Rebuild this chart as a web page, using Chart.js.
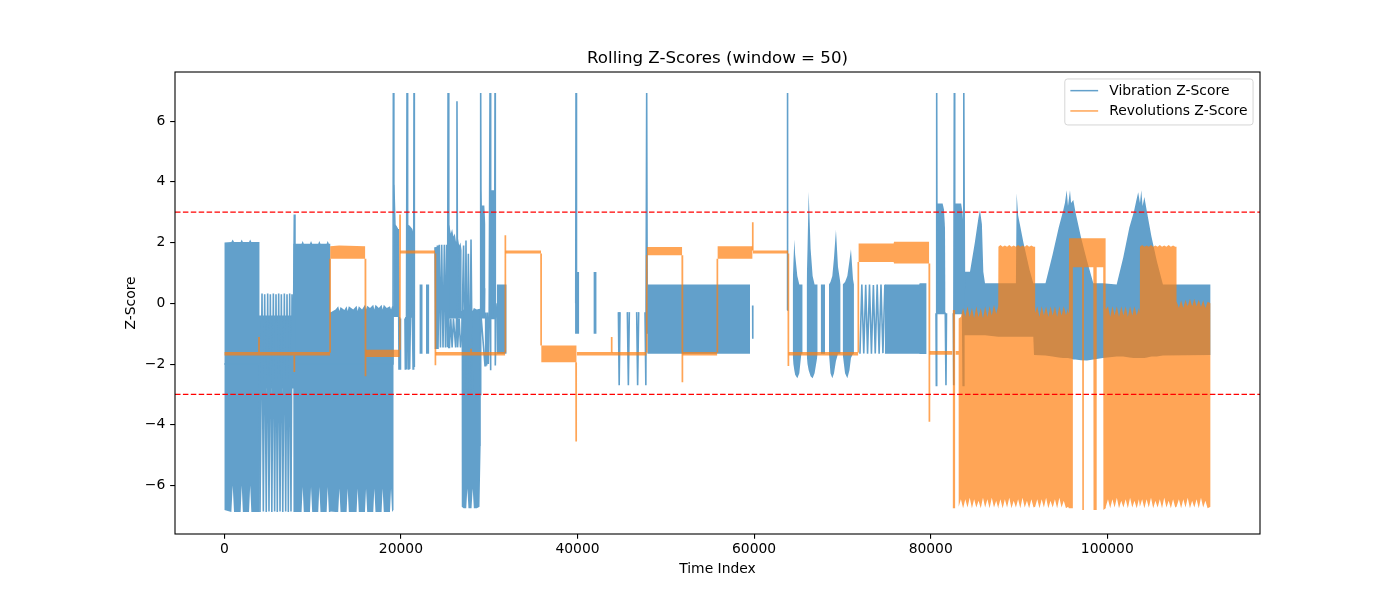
<!DOCTYPE html>
<html>
<head>
<meta charset="utf-8">
<script src="https://cdn.jsdelivr.net/npm/chart.js@4.4.1/dist/chart.umd.min.js"></script>
<style>
html,body{margin:0;padding:0;background:#fff;}
#wrap{width:1400px;height:600px;}
</style>
</head>
<body>
<div id="wrap"><canvas id="c" width="1400" height="600"></canvas></div>
<script>
// ---------------- data ----------------
const xTicks = [0, 20000, 40000, 60000, 80000, 100000];
const yTicks = [-6, -4, -2, 0, 2, 4, 6];
const thresholds = [3, -3];
const seriesNames = ['Vibration Z-Score', 'Revolutions Z-Score'];

// Vibration: thin trace (spikes and sparse stripes)  [x, y]
const vibTrace = [
 [0,-2.0],[3985,-2.0],
 [4043,-6.87],[4270,0.32],[4420,-6.85],[4572,0.3],[4750,-6.87],[4911,0.32],[5060,-6.85],[5213,0.3],
 [5380,-6.87],[5553,0.32],[5700,-6.85],[5855,0.3],[6000,-6.87],[6157,0.32],[6310,-6.85],[6459,0.3],
 [6620,-6.87],[6799,0.32],[6950,-6.85],[7101,0.3],[7250,-6.87],[7403,0.32],[7550,-6.85],[7667,0.3],
 [7800,-2.0],[7930,2.92],[8000,-2.0],[19100,-2.0],[19143,6.92],[19200,3.9],[19600,-0.45],[19700,2.45],
 [19784,-2.16],[19840,-0.45],[19900,-2.16],[19950,-0.5],[19960,null],
 [20460,-0.5],[20500,-2.16],[20560,-0.45],[20620,-2.16],[20690,6.92],[20760,-0.45],[20830,-2.16],[20900,-0.45],
 [20990,-2.16],[21080,-0.45],[21300,-0.45],[21380,-2.16],[21440,-0.45],[21483,6.92],[21521,-2.1],[21530,null],
 [23860,1.85],[23920,-1.5],[23990,1.85],[24060,-1.5],[24130,1.9],[24200,-1.5],[24350,1.93],[24480,-1.45],
 [24620,1.93],[24770,-1.45],[24920,1.93],[25050,-1.45],[25180,1.93],[25280,-1.45],[25340,6.92],[25420,-1.45],
 [25500,-1.45],[25650,-0.5],[25800,-1.45],[25950,-0.5],[26200,-1.45],[26300,-0.5],[26350,6.65],[26420,-1.45],
 [26600,-0.5],[26750,-1.45],[26900,-1.0],
 [27100,1.9],[27250,-3.0],[27370,2.07],[27500,-3.0],[27640,1.63],[27800,-3.0],[27940,2.1],[28100,-3.0],
 [28980,-3.0],[29035,6.92],[29100,-0.5],[29525,-2.05],[29600,-0.3],[29710,-2.05],[29800,-0.3],[29900,-2.0],
 [30000,-0.3],[30093,6.92],[30130,-2.2],[30200,-0.5],[30600,-0.5],[30660,6.92],[30690,-2.05],[30780,-0.5],
 [30900,0.0],[30910,null],
 [39800,0.0],[39830,6.92],[39870,2.3],[39900,0.0],[39910,null],
 [44630,-0.29],[44720,-2.7],[44815,-0.29],[44820,null],
 [45645,-0.29],[45760,-2.7],[45870,-0.29],[45880,null],
 [46700,-0.29],[46810,-2.7],[46930,-0.29],[46940,null],
 [47646,-0.29],[47740,-2.7],[47835,6.92],[47900,-1.0],[47910,null],
 [59837,-0.07],[59850,-1.17],[59860,null],
 [63764,-0.23],[63780,6.92],[63800,-0.23],[63810,null],
 [71990,-1.66],[72200,0.62],[72420,-1.65],[72640,0.61],[72850,-1.66],[73070,0.62],[73290,-1.66],[73510,0.6],
 [73720,-1.65],[73940,0.62],[74160,-1.66],[74370,0.62],[74590,-1.64],[74810,0.61],[74820,null],
 [80600,-0.33],[80640,-2.7],[80680,6.92],[80720,-0.33],[81650,-0.33],[81730,-2.7],[81790,-0.33],[81800,null],
 [82560,-0.33],[82610,-2.7],[82676,6.92],[82720,-0.33],[83620,-0.33],[83680,-2.7],[83730,-0.33],[83770,6.92],[83820,0.5]
];

// Vibration: dense oscillation envelope  [x, upper, lower]
const vibBand = [
 [0,2.0,-6.8],[800,2.02,-6.87],[950,2.1,-6.0],[1100,2.02,-6.87],[1850,2.02,-6.87],[1970,2.1,-6.0],[2100,2.02,-6.87],
 [2800,2.02,-6.87],[2930,2.1,-6.0],[3060,2.02,-6.87],[3980,2.02,-6.87],
 [3995,-0.4,-2.8],[7815,-0.4,-2.8],
 [7830,1.96,-6.87],[8750,1.96,-6.87],[8875,2.05,-6.05],[9000,1.96,-6.87],[9700,1.96,-6.87],[9820,2.05,-6.05],
 [9950,1.96,-6.87],[10640,1.96,-6.87],[10760,2.05,-6.05],[10890,1.96,-6.87],[11590,1.96,-6.87],[11710,2.05,-6.05],
 [11840,1.96,-6.87],[12000,1.96,-6.87],
 [12015,-0.3,-6.85],[12600,-0.2,-6.87],[12900,-0.1,-6.87],[13030,-0.25,-6.1],[13160,-0.12,-6.87],[13600,-0.22,-6.87],
 [13850,-0.1,-6.87],[13970,-0.25,-6.1],[14100,-0.1,-6.87],[14600,-0.2,-6.87],[14980,-0.08,-6.87],[15100,-0.25,-6.1],
 [15230,-0.1,-6.87],[15600,-0.2,-6.87],[15930,-0.05,-6.87],[16050,-0.2,-6.1],[16180,-0.08,-6.87],[16500,-0.15,-6.87],
 [16870,-0.05,-6.87],[16990,-0.2,-6.1],[17120,-0.05,-6.87],[17500,-0.15,-6.87],[17810,-0.05,-6.87],[17930,-0.2,-6.1],
 [18060,-0.05,-6.87],[18400,-0.15,-6.87],[18760,-0.1,-6.87],[18880,-0.2,-6.1],[19000,-0.1,-6.87],[19150,-0.1,-6.8],
 [19160,3.9,-0.45],[19260,3.9,-0.45],[19320,2.6,-0.45],[19500,2.55,-0.45],[19700,2.45,-0.45],[19800,null,null],
 [20700,2.6,-0.45],[21000,2.55,-0.45],[21300,2.45,-0.45],[21420,2.3,-0.45],[21500,null,null],
 [22090,0.62,-1.66],[22470,0.62,-1.66],[22480,null,null],
 [22840,0.62,-1.66],[23220,0.62,-1.66],[23230,null,null],
 [25360,2.62,-0.5],[25500,2.55,-0.5],[25650,2.3,-0.5],[25800,2.45,-0.5],[25950,2.2,-0.5],[26100,2.3,-0.5],
 [26250,2.0,-0.5],[26450,2.15,-0.5],[26600,1.9,-0.5],[26750,2.0,-0.5],[26870,1.75,-0.5],
 [26890,-0.25,-6.7],[27100,-0.2,-6.75],[27400,-0.2,-6.75],[27525,-0.25,-6.1],[27650,-0.15,-6.75],[28000,-0.2,-6.75],
 [28130,-0.25,-6.1],[28260,-0.15,-6.75],[28600,-0.2,-6.75],[28900,-0.18,-6.7],[29030,-0.2,-4.7],
 [29050,3.9,-0.5],[29150,3.22,-0.5],[29450,3.22,-0.5],[29560,2.6,-0.5],[29600,0.5,-0.5],[29650,null,null],
 [30110,4.0,-0.5],[30200,3.72,-0.5],[30550,3.72,-0.5],[30640,3.1,-0.5],[30700,null,null],
 [30850,0.62,-1.66],[31980,0.62,-1.66],[31990,null,null],
 [39720,1.03,-1.0],[40200,1.03,-1.0],[40210,null,null],
 [41800,1.03,-1.0],[42170,1.03,-1.0],[42180,null,null],
 [47900,0.62,-1.66],[59540,0.62,-1.66],[59550,null,null],
 [64370,0.62,-1.66],[64450,1.3,-2.0],[64555,2.1,-2.2],[64650,1.6,-2.35],[64895,0.9,-2.47],[65120,0.62,-2.3],
 [65350,0.62,-1.66],[65500,0.62,-1.66],[65600,null,null],
 [65950,0.62,-1.66],[66050,1.8,-2.0],[66180,3.67,-2.2],[66400,1.8,-2.4],[66630,0.9,-2.47],[66850,0.62,-2.3],
 [67080,0.62,-1.9],[67200,0.62,-1.66],[67300,null,null],
 [67540,0.62,-1.66],[68030,0.62,-1.66],[68100,null,null],
 [68480,0.62,-1.66],[68650,0.7,-2.3],[68860,0.9,-2.47],[69050,1.5,-2.3],[69270,2.41,-1.9],[69500,1.2,-1.66],
 [69800,0.62,-1.66],[69900,null,null],
 [70030,0.62,-1.66],[70300,0.7,-2.3],[70560,0.9,-2.47],[70800,1.4,-2.2],[70970,1.78,-1.8],[71200,0.8,-1.66],
 [71310,0.62,-1.66],[71400,null,null],
 [74800,0.62,-1.66],[78700,0.62,-1.66],[78750,0.66,-1.67],[79540,0.66,-1.67],[79550,null,null],
 [80700,3.29,-0.33],[81350,3.29,-0.33],[81500,3.1,-0.33],[81620,2.5,-0.33],[81680,0.5,-0.33],[81750,null,null],
 [82700,3.29,-0.33],[83450,3.29,-0.33],[83600,3.0,-0.33],[83700,2.6,-0.33],[83760,1.04,-1.05],[84450,1.04,-1.05],
 [85000,2.0,-1.05],[85400,2.8,-1.05],[85580,3.07,-1.05],[85800,2.6,-1.05],[85960,1.04,-1.05],[86150,0.66,-1.05],
 [87660,0.66,-1.1],[89650,0.66,-1.1],[89735,3.62,-1.1],[89900,2.9,-1.1],[90500,2.0,-1.1],[91200,1.1,-1.1],
 [91620,0.66,-1.1],[91700,0.66,-1.7],[93000,0.66,-1.72],[93800,1.6,-1.75],[94500,2.5,-1.78],[95000,3.05,-1.8],
 [95200,3.3,-1.8],[95400,3.72,-1.8],[95550,3.2,-1.8],[95775,3.72,-1.82],[95900,3.3,-1.82],[96150,3.4,-1.85],
 [96400,3.0,-1.85],[97000,2.2,-1.87],[97700,1.4,-1.88],[98420,0.66,-1.85],[99500,0.66,-1.8],[101060,0.62,-1.75],
 [101800,1.5,-1.75],[102500,2.5,-1.78],[103000,3.0,-1.8],[103300,3.4,-1.8],[103500,3.66,-1.8],[103700,3.3,-1.8],
 [103850,3.72,-1.8],[104000,3.2,-1.8],[104200,3.5,-1.8],[104500,3.0,-1.78],[105000,2.2,-1.75],[105600,1.4,-1.75],
 [106300,0.62,-1.72],[111700,0.62,-1.7]
];

// Revolutions: thin trace (vertical steps and spikes)  [x, y]
const revTrace = [
 [3925,-1.6],[3930,-1.11],[3935,-1.6],[3936,null],
 [7925,-1.72],[7930,-2.26],[7935,-1.72],[7936,null],
 [11977,-1.6],[11979,1.47],[11980,null],
 [15975,1.47],[15985,-2.4],[15995,-1.77],[15996,null],
 [19885,-1.53],[19898,2.92],[19910,1.74],[19911,null],
 [23898,1.64],[23905,-2.04],[23912,-1.72],[23913,null],
 [27935,-1.6],[27940,-1.5],[27945,-1.6],[27946,null],
 [31815,-1.6],[31825,2.24],[31835,1.74],[31836,null],
 [35872,1.64],[35880,-1.39],[35881,null],
 [39835,-1.94],[39845,-4.55],[39855,-1.94],[39856,null],
 [43865,-1.6],[43870,-1.11],[43875,-1.6],[43876,null],
 [47838,-1.6],[47842,1.58],[47843,null],
 [51865,1.58],[51875,-2.6],[51885,-1.72],[51886,null],
 [55836,-1.6],[55840,1.47],[55841,null],
 [59835,1.88],[59845,2.67],[59855,1.74],[59856,null],
 [63872,1.64],[63880,-2.06],[63888,-1.72],[63889,null],
 [71802,-1.6],[71806,1.36],[71807,null],
 [79840,1.31],[79850,-3.9],[79860,-1.69]
];

// Revolutions: step levels and dense oscillation envelope  [x, upper, lower]
const revBand = [
 [0,-1.6,-1.72],[11975,-1.6,-1.72],[11980,null,null],
 [11985,1.88,1.47],[13000,1.9,1.47],[15970,1.88,1.47],[15980,null,null],
 [16000,-1.53,-1.77],[19880,-1.53,-1.77],[19890,null,null],
 [19905,1.74,1.64],[23900,1.74,1.64],[23902,null,null],
 [23910,-1.6,-1.72],[31820,-1.6,-1.72],[31822,null,null],
 [31830,1.74,1.64],[35870,1.74,1.64],[35872,null,null],
 [35885,-1.39,-1.94],[39905,-1.39,-1.94],[39907,null,null],
 [39910,-1.6,-1.72],[47835,-1.6,-1.72],[47838,null,null],
 [47845,1.85,1.58],[51860,1.85,1.58],[51862,null,null],
 [51870,-1.6,-1.72],[55835,-1.6,-1.72],[55838,null,null],
 [55845,1.88,1.47],[59830,1.88,1.47],[59832,null,null],
 [59840,1.74,1.64],[63875,1.74,1.64],[63877,null,null],
 [63885,-1.6,-1.72],[71800,-1.6,-1.72],[71802,null,null],
 [71810,1.97,1.36],[75800,1.97,1.36],[75850,2.03,1.31],[79835,2.03,1.31],[79838,null,null],
 [79845,-1.57,-1.69],[82475,-1.57,-1.69],[82477,null,null],
 [82480,-0.22,-6.75],[82790,-0.22,-6.75],[82792,null,null],
 [82795,-1.57,-1.69],[83165,-1.57,-1.69],
 [83170,-0.5,-6.7],[83420,-0.45,-6.45],[83670,-0.15,-6.75],[83920,-0.45,-6.45],[84170,-0.1,-6.72],[84420,-0.45,-6.4],
 [84670,-0.15,-6.75],[84920,-0.5,-6.45],[85170,-0.1,-6.72],[85420,-0.45,-6.5],[85670,-0.15,-6.75],[85920,-0.5,-6.4],
 [86170,-0.1,-6.72],[86420,-0.45,-6.45],[86670,-0.1,-6.75],[86920,-0.4,-6.4],[87170,-0.05,-6.72],[87420,-0.35,-6.5],
 [87650,-0.1,-6.75],
 [87670,1.86,-6.7],[87900,1.92,-6.45],[88150,1.86,-6.75],[88400,1.9,-6.45],[88650,1.86,-6.72],[88900,1.92,-6.4],
 [89150,1.86,-6.75],[89400,1.9,-6.5],[89650,1.86,-6.72],[89900,1.92,-6.45],[90150,1.86,-6.75],[90400,1.9,-6.4],
 [90650,1.86,-6.72],[90900,1.92,-6.5],[91150,1.86,-6.75],[91400,1.9,-6.45],[91650,1.86,-6.72],[91830,1.86,-6.7],
 [91850,-0.3,-6.7],[92070,-0.1,-6.45],[92320,-0.45,-6.75],[92570,-0.1,-6.45],[92820,-0.4,-6.72],[93070,-0.1,-6.4],
 [93320,-0.45,-6.75],[93570,-0.1,-6.5],[93820,-0.4,-6.72],[94070,-0.1,-6.45],[94320,-0.45,-6.75],[94570,-0.1,-6.4],
 [94820,-0.4,-6.72],[95070,-0.1,-6.5],[95320,-0.4,-6.75],[95560,-0.15,-6.7],[95650,-0.3,-6.75],
 [95665,2.14,-6.75],[96080,2.14,-6.75],[96100,2.14,1.19],[97150,2.14,1.19],[97170,2.14,-6.8],[97330,2.14,-6.8],
 [97350,2.14,1.19],[98420,2.14,1.19],[98440,2.14,-6.8],[98780,2.14,-6.8],[98800,2.14,1.19],[99540,2.14,1.19],
 [99560,2.14,-6.8],[99810,2.14,-6.75],
 [99830,-0.2,-6.7],[100080,-0.1,-6.45],[100330,-0.45,-6.75],[100580,-0.1,-6.45],[100830,-0.4,-6.72],[101080,-0.1,-6.4],
 [101330,-0.45,-6.75],[101580,-0.1,-6.5],[101830,-0.4,-6.72],[102080,-0.1,-6.45],[102330,-0.45,-6.75],[102580,-0.1,-6.4],
 [102830,-0.4,-6.72],[103080,-0.1,-6.5],[103330,-0.4,-6.75],[103580,-0.15,-6.45],[103690,-0.3,-6.7],
 [103700,1.86,-6.7],[103950,1.92,-6.45],[104200,1.86,-6.75],[104450,1.9,-6.45],[104700,1.86,-6.72],[104950,1.92,-6.4],
 [105200,1.86,-6.75],[105450,1.9,-6.5],[105700,1.86,-6.72],[105950,1.92,-6.45],[106200,1.86,-6.75],[106450,1.9,-6.4],
 [106700,1.86,-6.72],[106950,1.92,-6.5],[107200,1.86,-6.75],[107450,1.9,-6.45],[107700,1.86,-6.72],[107840,1.86,-6.7],
 [107860,0.05,-6.7],[108110,-0.15,-6.45],[108360,0.1,-6.75],[108610,-0.15,-6.45],[108860,0.12,-6.72],[109110,-0.1,-6.4],
 [109360,0.15,-6.75],[109610,-0.1,-6.5],[109860,0.15,-6.72],[110110,-0.1,-6.45],[110360,0.12,-6.75],[110610,-0.12,-6.4],
 [110860,0.1,-6.72],[111110,-0.15,-6.5],[111360,0.05,-6.75],[111700,0.0,-6.7]
];

// ---------------- chart ----------------
const X_MIN = -5585, X_MAX = 117295, Y_MIN = -7.594, Y_MAX = 7.615;
const BLUE = '#62a0cb';                    // tab:blue at alpha 0.7 over white
const ORANGE = 'rgba(255,127,14,0.7)';     // tab:orange, alpha 0.7
const FONT = "'DejaVu Sans', 'Liberation Sans', sans-serif";
const FS = 13.89;

const pts2 = a => a.map(p => ({x: p[0], y: p[1]}));
const ptsHi = a => a.map(p => ({x: p[0], y: p[1]}));
const ptsLo = a => a.map(p => ({x: p[0], y: p[2]}));
const hline = v => [{x: X_MIN, y: v}, {x: X_MAX, y: v}];

Chart.defaults.font.family = FONT;
Chart.defaults.font.size = FS;
Chart.defaults.color = '#000';

const framePlugin = {
  id: 'frame',
  afterDatasetsDraw(chart) {
    const {ctx, chartArea: a} = chart;
    ctx.save();
    ctx.strokeStyle = '#000';
    ctx.lineWidth = 1.1;
    ctx.strokeRect(a.left, a.top, a.right - a.left, a.bottom - a.top);
    ctx.restore();
  }
};

const legendPlugin = {
  id: 'mplLegend',
  afterDraw(chart) {
    const {ctx, chartArea: a} = chart;
    const items = [
      {label: seriesNames[0], color: BLUE},
      {label: seriesNames[1], color: ORANGE}
    ];
    ctx.save();
    ctx.font = FS + 'px ' + FONT;
    const tw = Math.max(...items.map(it => ctx.measureText(it.label).width));
    const pad = 0.4 * FS, hl = 2 * FS, htp = 0.8 * FS, axp = 0.5 * FS;
    const w = pad * 2 + hl + htp + tw;
    const h = 46;
    const x0 = a.right - axp - w, y0 = a.top + axp;
    const r = 2.8;
    ctx.beginPath();
    ctx.moveTo(x0 + r, y0);
    ctx.lineTo(x0 + w - r, y0);
    ctx.quadraticCurveTo(x0 + w, y0, x0 + w, y0 + r);
    ctx.lineTo(x0 + w, y0 + h - r);
    ctx.quadraticCurveTo(x0 + w, y0 + h, x0 + w - r, y0 + h);
    ctx.lineTo(x0 + r, y0 + h);
    ctx.quadraticCurveTo(x0, y0 + h, x0, y0 + h - r);
    ctx.lineTo(x0, y0 + r);
    ctx.quadraticCurveTo(x0, y0, x0 + r, y0);
    ctx.closePath();
    ctx.fillStyle = 'rgba(255,255,255,0.8)';
    ctx.fill();
    ctx.strokeStyle = 'rgba(204,204,204,0.8)';
    ctx.lineWidth = 1;
    ctx.stroke();
    items.forEach((it, i) => {
      const cy = y0 + 11.7 + i * 20.3;
      ctx.beginPath();
      ctx.moveTo(x0 + pad, cy);
      ctx.lineTo(x0 + pad + hl, cy);
      ctx.strokeStyle = it.color;
      ctx.lineWidth = 1.5;
      ctx.stroke();
      ctx.fillStyle = '#000';
      ctx.textAlign = 'left';
      ctx.textBaseline = 'middle';
      ctx.fillText(it.label, x0 + pad + hl + htp, cy + 0.5);
    });
    ctx.restore();
  }
};

const common = {pointRadius: 0, pointHoverRadius: 0, tension: 0, spanGaps: false};

new Chart(document.getElementById('c'), {
  type: 'line',
  data: {
    datasets: [
      Object.assign({label: 'thr+', data: hline(thresholds[0]), borderColor: '#ff0000', borderWidth: 1.3,
        borderDash: [5.5, 2.4], fill: false, order: 0}, common),
      Object.assign({label: 'thr-', data: hline(thresholds[1]), borderColor: '#ff0000', borderWidth: 1.3,
        borderDash: [5.5, 2.4], fill: false, order: 0}, common),
      Object.assign({label: seriesNames[1], data: pts2(revTrace), borderColor: ORANGE, borderWidth: 1.7,
        fill: false, order: 1}, common),
      Object.assign({label: 'revHi', data: ptsHi(revBand), borderColor: 'rgba(0,0,0,0)', borderWidth: 1,
        fill: false, order: 2}, common),
      Object.assign({label: 'revLo', data: ptsLo(revBand), borderColor: 'rgba(0,0,0,0)', borderWidth: 1,
        backgroundColor: ORANGE, fill: '-1', order: 2}, common),
      Object.assign({label: seriesNames[0], data: pts2(vibTrace), borderColor: BLUE, borderWidth: 1.6,
        fill: false, order: 3}, common),
      Object.assign({label: 'vibHi', data: ptsHi(vibBand), borderColor: 'rgba(0,0,0,0)', borderWidth: 1,
        fill: false, order: 4}, common),
      Object.assign({label: 'vibLo', data: ptsLo(vibBand), borderColor: 'rgba(0,0,0,0)', borderWidth: 1,
        backgroundColor: BLUE, fill: '-1', order: 4}, common)
    ]
  },
  options: {
    responsive: false,
    maintainAspectRatio: false,
    devicePixelRatio: 1,
    animation: false,
    events: [],
    layout: {padding: {left: 118, right: 140, top: 0, bottom: 21}},
    plugins: {
      legend: {display: false},
      tooltip: {enabled: false},
      title: {
        display: true,
        text: 'Rolling Z-Scores (window = 50)',
        fullSize: false,
        color: '#000',
        font: {family: FONT, size: 16.67, weight: 'normal'},
        padding: {top: 48.5, bottom: 3.5}
      }
    },
    scales: {
      x: {
        type: 'linear',
        min: X_MIN, max: X_MAX,
        afterBuildTicks: s => { s.ticks = xTicks.map(v => ({value: v})); },
        afterFit: s => { s.height = 45; },
        ticks: {callback: v => String(v), maxRotation: 0, minRotation: 0, autoSkip: false,
                padding: 2.7, color: '#000', font: {family: FONT, size: FS}},
        grid: {display: true, drawOnChartArea: false, drawTicks: true, tickLength: 4.86,
               color: '#000', lineWidth: 1.1},
        border: {display: false},
        title: {display: true, text: 'Time Index', color: '#000', font: {family: FONT, size: FS},
                padding: {top: 0, bottom: 1.66}}
      },
      y: {
        type: 'linear',
        min: Y_MIN, max: Y_MAX,
        afterBuildTicks: s => { s.ticks = yTicks.map(v => ({value: v})); },
        afterFit: s => { s.width = 57; },
        ticks: {callback: v => (v < 0 ? '\u2212' + Math.abs(v) : String(v)), autoSkip: false,
                padding: 4.84, color: '#000', font: {family: FONT, size: FS}},
        grid: {display: true, drawOnChartArea: false, drawTicks: true, tickLength: 4.86,
               color: '#000', lineWidth: 1.1},
        border: {display: false},
        title: {display: true, text: 'Z-Score', color: '#000', font: {family: FONT, size: FS},
                padding: {top: 4.66, bottom: 0}}
      }
    }
  },
  plugins: [framePlugin, legendPlugin]
});
</script>
</body>
</html>
